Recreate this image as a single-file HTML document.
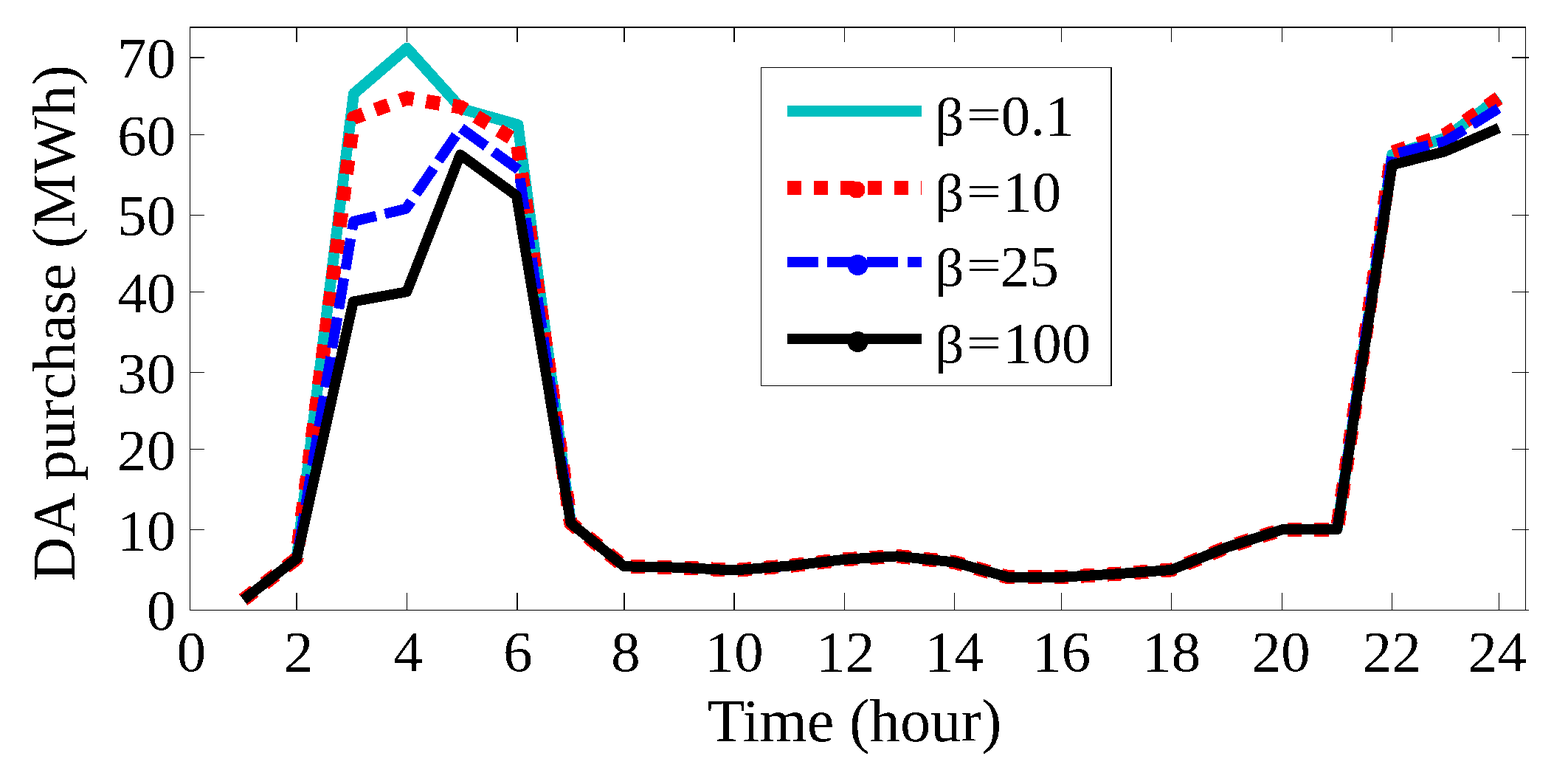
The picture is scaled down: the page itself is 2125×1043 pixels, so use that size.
<!DOCTYPE html>
<html><head><meta charset="utf-8"><style>
html,body{margin:0;padding:0;background:#fff;overflow:hidden;}
svg{display:block;}
text{font-family:"Liberation Serif","Times New Roman",serif;font-size:78px;fill:#000;}
</style></head><body>
<svg width="2125" height="1043" viewBox="0 0 2125 1043">
<rect width="2125" height="1043" fill="#fff"/>
<g shape-rendering="crispEdges"><rect x="257" y="36" width="1811" height="2"/><rect x="257" y="36" width="1" height="791"/><rect x="2067" y="36" width="1" height="791"/><rect x="257" y="826" width="1815" height="1"/><rect x="401" y="38" width="2" height="19"/><rect x="401" y="803" width="2" height="23"/><rect x="551" y="38" width="1" height="19"/><rect x="551" y="803" width="1" height="23"/><rect x="700" y="38" width="2" height="19"/><rect x="700" y="803" width="2" height="23"/><rect x="845" y="38" width="2" height="19"/><rect x="845" y="803" width="2" height="23"/><rect x="994" y="38" width="2" height="19"/><rect x="994" y="803" width="2" height="23"/><rect x="1144" y="38" width="1" height="19"/><rect x="1144" y="803" width="1" height="23"/><rect x="1293" y="38" width="1" height="19"/><rect x="1293" y="803" width="1" height="23"/><rect x="1438" y="38" width="1" height="19"/><rect x="1438" y="803" width="1" height="23"/><rect x="1587" y="38" width="1" height="19"/><rect x="1587" y="803" width="1" height="23"/><rect x="1737" y="38" width="1" height="19"/><rect x="1737" y="803" width="1" height="23"/><rect x="1886" y="38" width="1" height="19"/><rect x="1886" y="803" width="1" height="23"/><rect x="2031" y="38" width="1" height="19"/><rect x="2031" y="803" width="1" height="23"/><rect x="258" y="717" width="19" height="1"/><rect x="2049" y="717" width="23" height="1"/><rect x="258" y="608" width="19" height="1"/><rect x="2049" y="608" width="23" height="1"/><rect x="258" y="504" width="19" height="1"/><rect x="2049" y="504" width="23" height="1"/><rect x="258" y="395" width="19" height="1"/><rect x="2049" y="395" width="23" height="1"/><rect x="258" y="291" width="19" height="1"/><rect x="2049" y="291" width="23" height="1"/><rect x="258" y="182" width="19" height="1"/><rect x="2049" y="182" width="23" height="1"/><rect x="258" y="77" width="19" height="2"/><rect x="2049" y="77" width="23" height="2"/></g>
<g shape-rendering="crispEdges"><polyline points="402.00,756.68 479.40,127.00 551.50,65.20 625.70,147.40 701.90,169.10 773.50,708.70" stroke="#00bfbf" stroke-width="15" fill="none" stroke-linejoin="round"/>
<polyline points="1812.10,717.40 1886.70,209.75 1959.10,186.86 2031.50,132.34" stroke="#00bfbf" stroke-width="15" fill="none" stroke-linejoin="round"/>
<polyline points="329.80,812.40 402.00,756.68 479.30,159.60 551.60,132.90 624.70,145.10 700.80,191.60 773.50,708.70 846.00,767.30 920.50,768.68 995.00,772.50 1069.80,766.50 1144.60,757.77 1216.00,753.40 1293.60,761.59 1366.10,781.77 1438.60,781.77 1513.10,777.40 1587.60,771.95 1662.55,741.40 1737.50,717.40 1812.10,717.40 1886.70,206.48 1959.10,182.50 2031.50,132.76" stroke="#ff0000" stroke-width="19" fill="none" stroke-dasharray="19.00 17.00 19.00 17.64 20.00 17.89 20.00 17.90 19.07 17.00 19.00 17.00 19.00 17.00 19.00 17.00 19.00 17.00 19.00 17.00 19.00 17.00 19.00 17.00 19.00 17.00 19.00 17.00 19.00 17.00 19.00 17.00 19.00 17.00 19.00 17.00 19.00 17.00 19.00 17.00 19.00 17.00 19.00 17.00 19.00 17.00 19.00 17.00 19.00 17.00 19.00 17.00 19.13 17.22 19.24 17.22 19.25 17.21 19.24 17.20 19.23 17.21 19.22 17.21 19.16 17.08 19.09 17.08 19.09 17.08 19.09 17.07 19.09 17.08 19.09 17.08 19.15 17.19 19.21 17.19 19.21 17.19 19.21 17.19 19.22 17.19 19.12 17.04 19.05 17.04 19.04 17.04 19.05 17.04 19.05 17.04 19.04 17.04 19.05 17.04 19.05 17.04 19.04 17.04 19.05 17.07 19.07 17.06 19.07 17.07 19.07 17.06 19.07 17.07 19.07 17.06 19.08 17.06 19.07 17.07 19.07 17.06 19.07 17.07 19.07 17.06 19.07 17.16 19.19 17.16 19.18 17.17 19.18 17.16 19.18 17.17 19.18 17.16 19.75 18.45 19.87 17.11 19.12 17.10 19.12 17.11 19.12 17.10 19.17 17.20 19.22 17.20 19.22 17.20 19.22 17.19 19.22 17.20 19.22 17.20 19.23 17.22 19.24 17.22 19.24 17.22 19.24 17.19 19.00 17.00 19.00 17.00 19.00 17.00 19.00 17.00 19.00 0.34" stroke-linejoin="round"/>
<polyline points="329.80,812.40 402.00,756.68 479.20,299.90 550.20,282.80 624.70,173.40 703.00,230.00 773.50,708.70 846.00,767.30 920.50,768.68 995.00,772.50 1069.80,766.50 1144.60,757.77 1216.00,753.40 1293.60,761.59 1366.10,781.77 1438.60,781.77 1513.10,777.40 1587.60,771.95 1662.55,741.40 1737.50,717.40 1812.10,717.40 1886.70,209.30 1959.10,191.22 2031.50,146.45" stroke="#0000ff" stroke-width="14" fill="none" stroke-dasharray="0.00 2.40 42.00 12.00 42.00 12.00 42.00 12.00 42.00 12.00 42.00 12.00 42.00 12.00 42.00 12.00 42.00 12.00 42.00 12.00 42.44 12.26 42.90 12.00 42.00 12.00 42.00 12.00 42.00 12.00 42.00 12.00 42.17 12.10 42.33 12.10 42.33 12.10 42.33 12.10 42.38 12.11 42.38 12.11 42.38 12.11 42.38 12.11 42.38 12.10 42.38 12.11 42.38 12.11 42.38 12.11 42.38 12.11 42.37 12.11 42.38 12.11 42.38 12.11 42.38 12.11 42.38 12.11 42.37 12.11 42.38 12.11 42.38 12.11 42.38 12.11 42.38 12.10 42.38 12.11 42.38 12.11 42.38 12.11 42.38 12.11 42.38 12.10 42.38 12.11 42.38 12.11 42.38 12.11 42.38 12.11 42.38 12.10 42.38 12.11 42.30 12.00 42.00 12.00 42.00 12.00 42.00 12.00 42.00 12.00 42.00 12.00 42.00 12.00 42.00 0.70" stroke-linejoin="round"/>
<polyline points="329.80,812.40 402.00,756.68 478.80,408.50 551.30,395.20 623.80,209.50 699.90,265.00 773.50,708.70 846.00,767.30 920.50,768.68 995.00,772.50 1069.80,766.50 1144.60,757.77 1216.00,753.40 1293.60,761.59 1366.10,781.77 1438.60,781.77 1513.10,777.40 1587.60,771.95 1662.55,741.40 1737.50,717.40 1812.10,717.40 1886.70,223.40 1958.60,205.00 2031.50,173.40" stroke="#000" stroke-width="14" fill="none" stroke-linejoin="round"/>
</g>
<g shape-rendering="crispEdges"><rect x="1031" y="91" width="475" height="431" fill="#fff"/><rect x="1031" y="91" width="476" height="1"/><rect x="1031" y="91" width="1" height="432"/><rect x="1505" y="91" width="2" height="432"/><rect x="1031" y="522" width="476" height="1"/><rect x="1067" y="143" width="182" height="15" fill="#00bfbf"/><rect x="1067" y="245" width="19" height="19" fill="#f00"/><rect x="1103" y="245" width="19" height="19" fill="#f00"/><rect x="1139" y="245" width="19" height="19" fill="#f00"/><rect x="1176" y="245" width="19" height="19" fill="#f00"/><rect x="1212" y="245" width="19" height="19" fill="#f00"/><rect x="1248" y="245" width="1" height="19" fill="#f00"/><rect x="1067" y="348" width="42" height="14" fill="#00f"/><rect x="1121" y="348" width="42" height="14" fill="#00f"/><rect x="1175" y="348" width="42" height="14" fill="#00f"/><rect x="1230" y="348" width="19" height="14" fill="#00f"/><rect x="1067" y="452" width="182" height="14"/></g>
<g shape-rendering="crispEdges"><circle cx="1161" cy="257" r="11.5" fill="#f00"/><circle cx="1162.5" cy="359" r="14" fill="#00f"/><circle cx="1162.5" cy="463" r="14"/></g>
<defs><filter id="th" x="0" y="0" width="2125" height="1043" filterUnits="userSpaceOnUse" color-interpolation-filters="sRGB"><feComponentTransfer><feFuncA type="discrete" tableValues="0 1"/></feComponentTransfer></filter></defs>
<g filter="url(#th)"><text transform="translate(238.5,105.4) scale(1.02,1)" text-anchor="end">70</text>
<text transform="translate(238.5,209.7) scale(1.02,1)" text-anchor="end">60</text>
<text transform="translate(238.5,318.3) scale(1.02,1)" text-anchor="end">50</text>
<text transform="translate(238.5,422.6) scale(1.02,1)" text-anchor="end">40</text>
<text transform="translate(238.5,532.3) scale(1.02,1)" text-anchor="end">30</text>
<text transform="translate(238.5,636.3) scale(1.02,1)" text-anchor="end">20</text>
<text transform="translate(238.5,744.9) scale(1.02,1)" text-anchor="end">10</text>
<text transform="translate(238.5,852.8) scale(1.02,1)" text-anchor="end">0</text>
<text transform="translate(259.4,908.6) scale(1.02,1)" text-anchor="middle">0</text>
<text transform="translate(404.7,908.6) scale(1.02,1)" text-anchor="middle">2</text>
<text transform="translate(552.9,908.6) scale(1.02,1)" text-anchor="middle">4</text>
<text transform="translate(702.0,908.6) scale(1.02,1)" text-anchor="middle">6</text>
<text transform="translate(847.9,908.6) scale(1.02,1)" text-anchor="middle">8</text>
<text transform="translate(995.0,908.6) scale(1.02,1)" text-anchor="middle">10</text>
<text transform="translate(1145.7,908.6) scale(1.02,1)" text-anchor="middle">12</text>
<text transform="translate(1293.0,908.6) scale(1.02,1)" text-anchor="middle">14</text>
<text transform="translate(1438.6,908.6) scale(1.02,1)" text-anchor="middle">16</text>
<text transform="translate(1587.4,908.6) scale(1.02,1)" text-anchor="middle">18</text>
<text transform="translate(1735.9,908.6) scale(1.02,1)" text-anchor="middle">20</text>
<text transform="translate(1886.3,908.6) scale(1.02,1)" text-anchor="middle">22</text>
<text transform="translate(2029.1,908.6) scale(1.02,1)" text-anchor="middle">24</text>
<text x="959.05" y="1003.6" style="font-size:82.6px">Time (hour)</text>
<text transform="translate(100.9,787.1) rotate(-90)" style="font-size:82.8px">DA purchase (MWh)</text>
<text transform="translate(1266.4,182.5) scale(1.1,1)" style="font-size:72px">β</text><text transform="translate(1309.7,175.1) scale(0.832,0.588)" style="font-size:100px">=</text><text transform="translate(1356.6,182.5) scale(1.02,1)">0.1</text>
<text transform="translate(1266.4,286.4) scale(1.1,1)" style="font-size:72px">β</text><text transform="translate(1309.7,279.0) scale(0.832,0.588)" style="font-size:100px">=</text><text transform="translate(1358.8,286.4) scale(1.02,1)">10</text>
<text transform="translate(1266.4,386.8) scale(1.1,1)" style="font-size:72px">β</text><text transform="translate(1309.7,379.4) scale(0.832,0.588)" style="font-size:100px">=</text><text transform="translate(1355.5,386.8) scale(1.02,1)">25</text>
<text transform="translate(1266.4,491.3) scale(1.1,1)" style="font-size:72px">β</text><text transform="translate(1309.7,483.9) scale(0.832,0.588)" style="font-size:100px">=</text><text transform="translate(1359.2,491.3) scale(1.02,1)">100</text>
</g>
</svg>
</body></html>
